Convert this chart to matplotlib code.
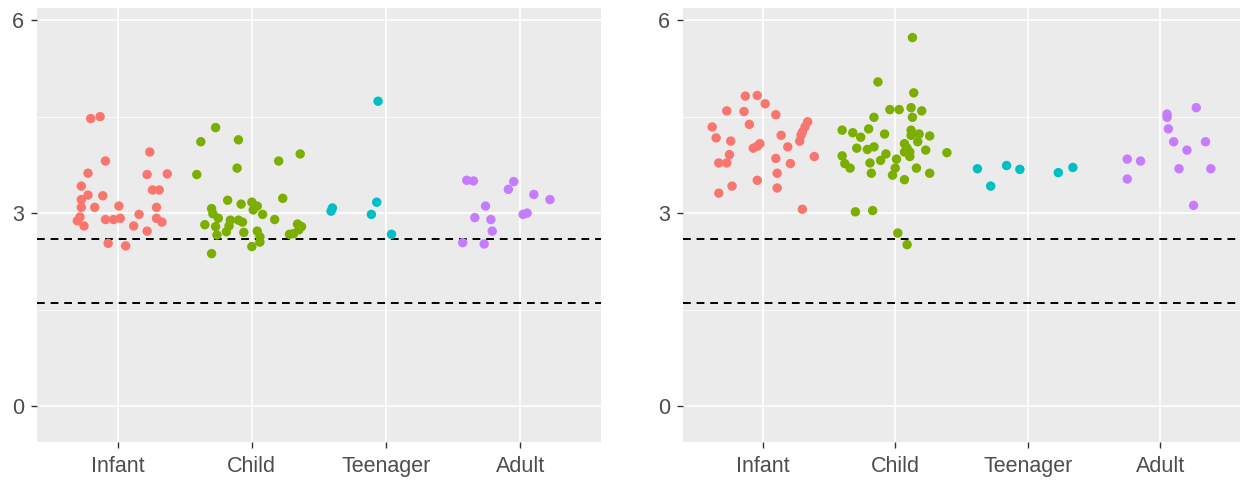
import numpy as np
import matplotlib
matplotlib.use('Agg')
import matplotlib.pyplot as plt

plt.rcParams['font.family'] = ['Liberation Sans', 'DejaVu Sans']

categories = ['Infant', 'Child', 'Teenager', 'Adult']
colors = ['#F8766D', '#7CAE00', '#00BFC4', '#C77CFF']
cutoffs = [2.6, 1.6]

# left panel: jitter offset and value per group
left_infant_dx = [-0.20, -0.13, -0.09, -0.22, 0.24, 0.22, 0.37, -0.27, -0.22, -0.27,
                  -0.11, 0.26, 0.31, -0.27, -0.17, 0.01, 0.29, -0.28, -0.30, -0.25,
                  -0.09, -0.03, 0.02, 0.16, 0.29, 0.33, 0.12, 0.22, -0.07, 0.06]
left_infant_y = [4.47, 4.50, 3.81, 3.62, 3.95, 3.60, 3.61, 3.42, 3.28, 3.21,
                 3.27, 3.36, 3.36, 3.09, 3.09, 3.11, 3.09, 2.94, 2.88, 2.80,
                 2.90, 2.90, 2.92, 2.98, 2.92, 2.86, 2.80, 2.72, 2.53, 2.49]
left_child_dx = [-0.27, -0.38, -0.10, -0.11, -0.41, 0.20, 0.36, 0.23, -0.18, -0.08,
                 0.00, 0.04, 0.01, 0.08, -0.30, -0.29, -0.25, -0.35, -0.27, -0.16,
                 -0.17, -0.10, -0.07, -0.19, -0.06, -0.26, 0.04, 0.06, 0.06, 0.00,
                 -0.30, 0.17, 0.28, 0.31, 0.34, 0.37, 0.35]
left_child_y = [4.33, 4.11, 4.14, 3.70, 3.60, 3.81, 3.92, 3.23, 3.20, 3.14,
                3.17, 3.11, 3.05, 2.98, 3.07, 2.99, 2.92, 2.82, 2.79, 2.89,
                2.80, 2.89, 2.86, 2.71, 2.70, 2.66, 2.72, 2.63, 2.55, 2.48,
                2.37, 2.90, 2.67, 2.68, 2.83, 2.79, 2.74]
left_teen_dx = [-0.06, -0.07, -0.11, -0.40, -0.41, 0.04]
left_teen_y = [4.74, 3.17, 2.98, 3.08, 3.03, 2.67]
left_adult_dx = [-0.40, -0.35, -0.05, -0.09, 0.10, 0.22, -0.26, -0.34, -0.22, 0.02,
                 0.05, -0.21, -0.43, -0.27]
left_adult_y = [3.51, 3.50, 3.49, 3.37, 3.29, 3.21, 3.11, 2.93, 2.90, 2.98,
                3.00, 2.72, 2.54, 2.52]

# right panel
right_infant_dx = [-0.13, -0.04, -0.27, -0.14, 0.02, 0.10, -0.38, -0.10, -0.35, -0.24,
                   0.14, 0.34, 0.32, 0.30, 0.29, 0.28, -0.07, -0.04, -0.02, 0.19,
                   -0.25, -0.33, -0.27, 0.10, 0.21, 0.39, 0.11, -0.04, -0.23, 0.11,
                   -0.33, 0.30]
right_infant_y = [4.82, 4.83, 4.59, 4.58, 4.70, 4.53, 4.34, 4.38, 4.17, 4.12,
                  4.21, 4.42, 4.34, 4.26, 4.21, 4.12, 4.01, 4.04, 4.08, 4.03,
                  3.91, 3.78, 3.78, 3.85, 3.77, 3.88, 3.62, 3.51, 3.42, 3.39,
                  3.31, 3.06]
right_child_dx = [0.13, -0.13, 0.14, -0.04, 0.03, 0.12, 0.20, 0.13, -0.16, -0.40,
                  -0.20, -0.32, -0.26, -0.08, 0.12, 0.12, 0.18, 0.26, -0.29, -0.21,
                  -0.16, 0.17, 0.07, 0.09, 0.11, 0.07, 0.23, 0.39, -0.40, -0.38,
                  -0.34, -0.19, -0.11, -0.07, 0.11, 0.01, 0.00, -0.02, -0.18, 0.16,
                  0.26, 0.07, -0.30, -0.17, 0.02, 0.09]
right_child_y = [5.73, 5.04, 4.87, 4.61, 4.61, 4.64, 4.59, 4.49, 4.49, 4.29,
                 4.31, 4.25, 4.18, 4.23, 4.29, 4.21, 4.23, 4.20, 4.01, 3.99,
                 4.03, 4.11, 4.08, 4.01, 3.95, 3.95, 3.98, 3.94, 3.89, 3.77,
                 3.70, 3.78, 3.82, 3.92, 3.88, 3.84, 3.70, 3.59, 3.62, 3.70,
                 3.62, 3.52, 3.02, 3.04, 2.69, 2.51]
right_teen_dx = [-0.38, -0.28, -0.16, -0.06, 0.23, 0.34]
right_teen_y = [3.69, 3.42, 3.74, 3.68, 3.63, 3.71]
right_adult_dx = [-0.25, -0.15, -0.25, 0.05, 0.05, 0.27, 0.06, 0.10, 0.34, 0.20,
                  0.14, 0.38, 0.25]
right_adult_y = [3.84, 3.81, 3.53, 4.54, 4.49, 4.64, 4.31, 4.11, 4.11, 3.98,
                 3.69, 3.69, 3.12]

left = [(left_infant_dx, left_infant_y), (left_child_dx, left_child_y),
        (left_teen_dx, left_teen_y), (left_adult_dx, left_adult_y)]
right = [(right_infant_dx, right_infant_y), (right_child_dx, right_child_y),
         (right_teen_dx, right_teen_y), (right_adult_dx, right_adult_y)]


def gg_panel(ax, groups):
    ax.set_facecolor('#EBEBEB')
    ax.set_xlim(0.4, 4.6)
    ax.set_ylim(-0.56, 6.19)
    for s in ax.spines.values():
        s.set_visible(False)
    for yv in [1.5, 4.5]:
        ax.axhline(yv, color='white', lw=0.6, zorder=0.5)
    for yv in [0, 3, 6]:
        ax.axhline(yv, color='white', lw=1.2, zorder=0.6)
    for xv in range(1, 5):
        ax.axvline(xv, color='white', lw=1.2, zorder=0.6)
    for c in cutoffs:
        ax.axhline(c, color='black', lw=1.4, ls=(0, (4, 3)), zorder=1)
    for i, (dx, yv) in enumerate(groups):
        ax.scatter(i + 1 + np.array(dx), yv, s=46, color=colors[i],
                   edgecolors='none', zorder=2)
    ax.set_xticks(range(1, 5))
    ax.set_xticklabels(categories)
    ax.set_yticks([0, 3, 6])
    ax.tick_params(axis='both', colors='#333333', length=4.1, width=1,
                   labelcolor='#4D4D4D', labelsize=15.5)
    ax.tick_params(axis='x', pad=6)
    ax.tick_params(axis='y', pad=5)


fig = plt.figure(figsize=(12.44, 4.83), dpi=100)
ax1 = fig.add_axes([37/1244, 41/483, 564/1244, 434/483])
ax2 = fig.add_axes([683/1244, 41/483, 557/1244, 434/483])
gg_panel(ax1, left)
gg_panel(ax2, right)

fig.savefig('out.png', dpi=100)
